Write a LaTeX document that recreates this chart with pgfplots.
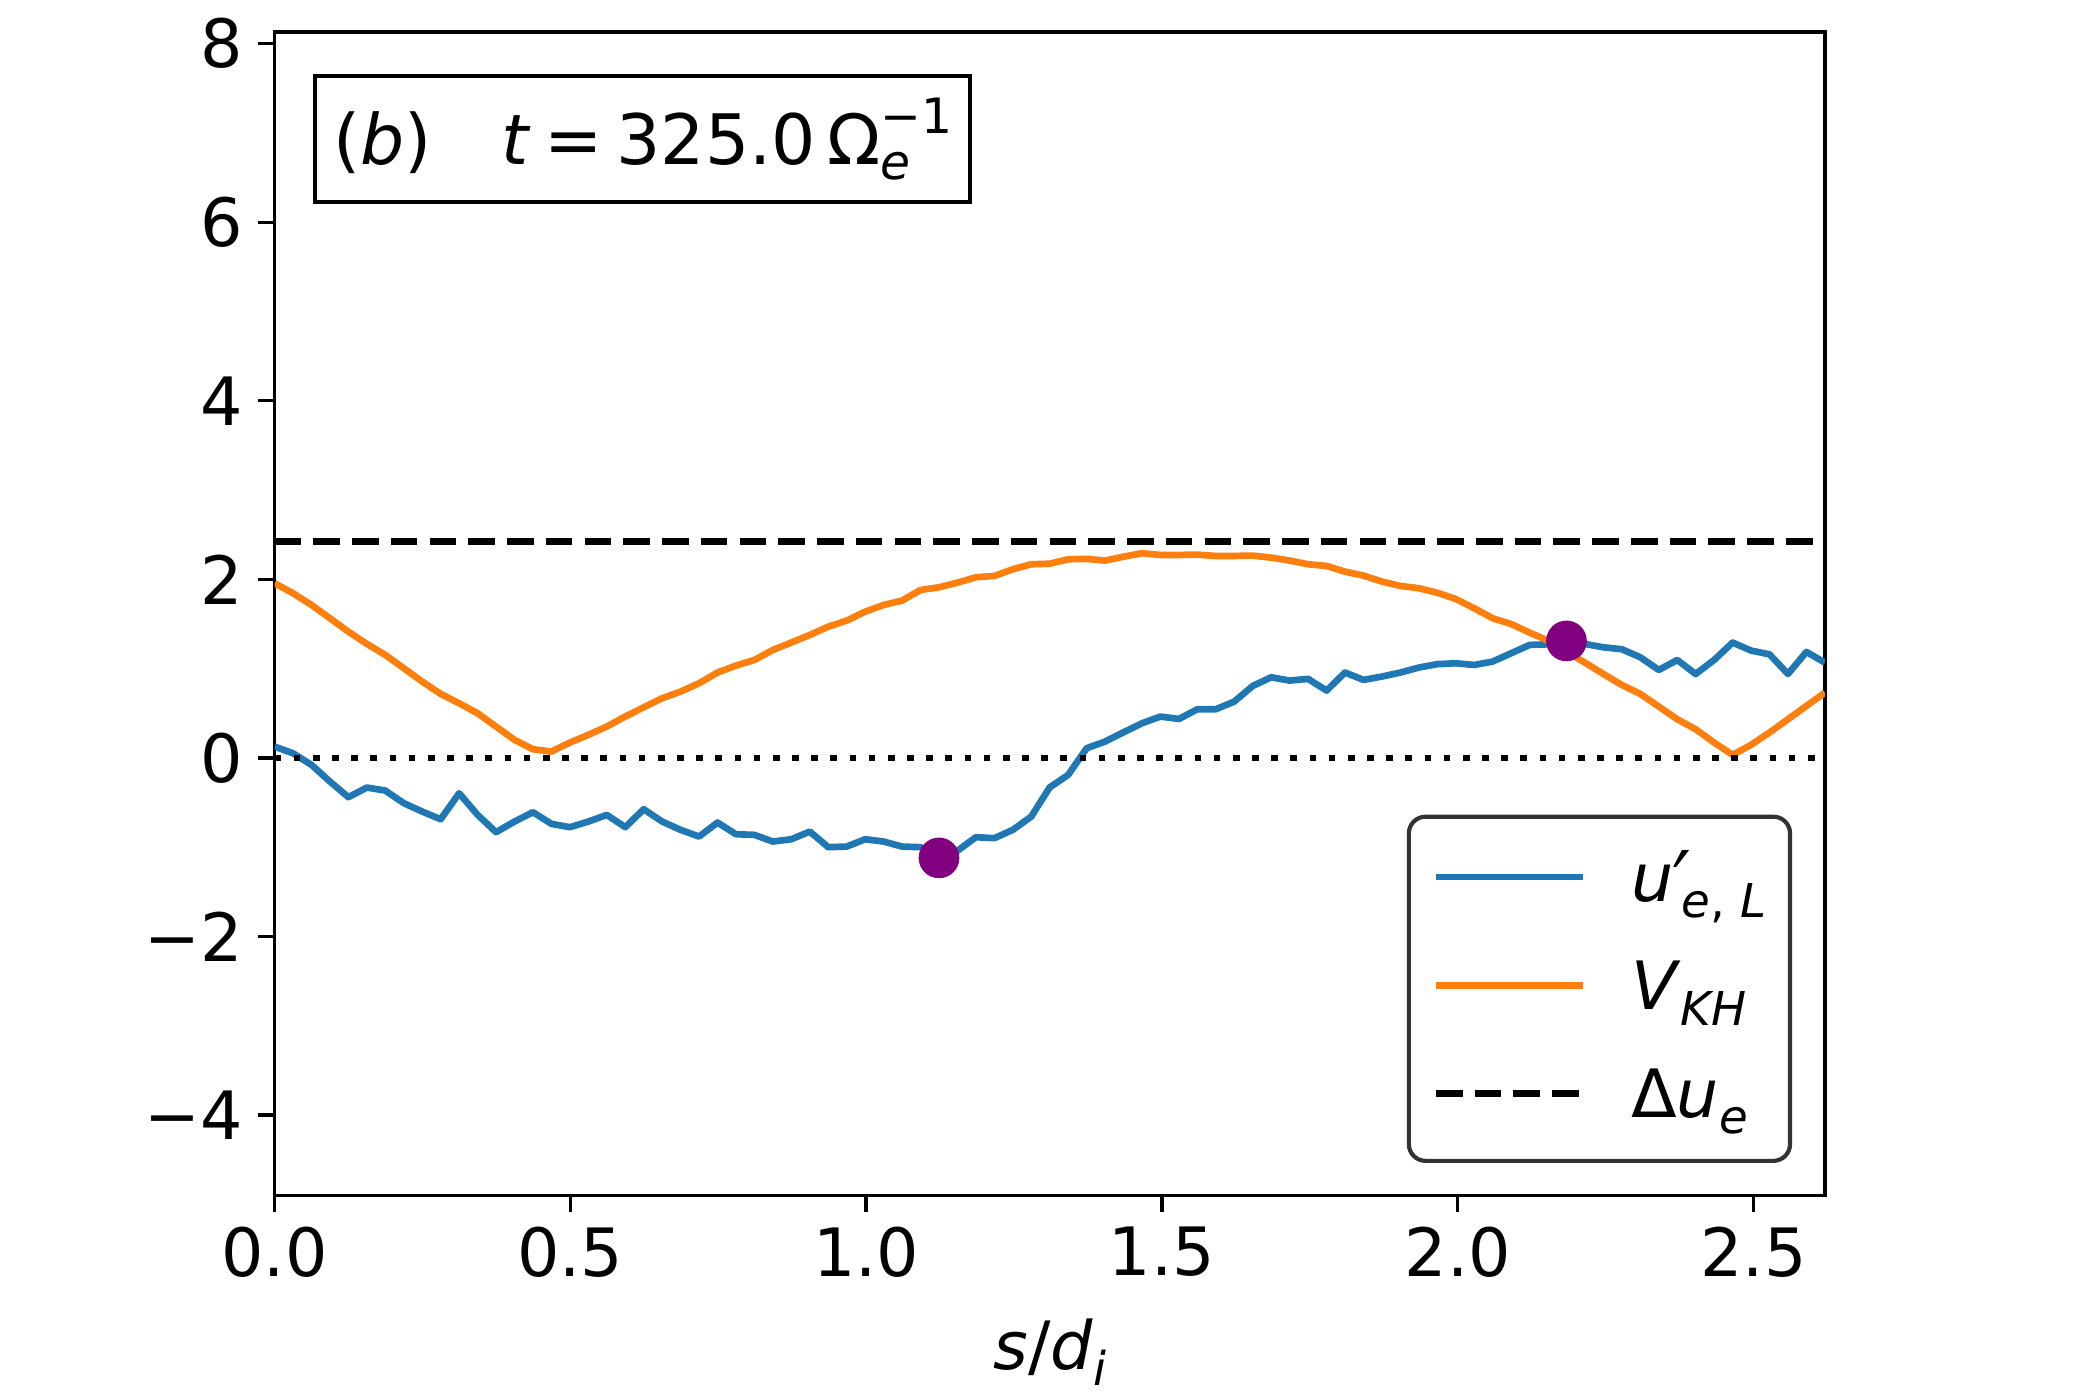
\documentclass[border=0pt]{standalone}
\usepackage{fontspec}
\setmainfont{DejaVu Sans}
\usepackage{pgfplots}
\usepackage{pgfplotstable}
\pgfplotsset{compat=1.18}
\definecolor{mplblue}{RGB}{31,119,180}
\definecolor{mplorange}{RGB}{255,127,14}
\definecolor{mplpurple}{RGB}{128,0,128}
\definecolor{legedge}{RGB}{51,51,51}
\newcommand{\sbs}[1]{\raisebox{-0.24em}{\fontsize{11.2pt}{13pt}\selectfont #1}}
\newcommand{\sps}[1]{\raisebox{0.45em}{\fontsize{11.2pt}{13pt}\selectfont #1}}
\newcommand{\tsbs}[1]{\raisebox{-0.22em}{\fontsize{11.7pt}{13pt}\selectfont #1}}
\newcommand{\tsps}[1]{\raisebox{0.45em}{\fontsize{11.7pt}{13pt}\selectfont #1}}
\newcommand{\prm}{{\itshape\raisebox{\dimexpr 12.25pt-1.4\fontcharht\font"2032\relax}{\scalebox{1.1}[1.4]{′}}}}

\pgfplotstableread{
x u v
0.0000 0.127 1.956
0.0312 0.052 1.844
0.0624 -0.078 1.713
0.0936 -0.265 1.564
0.1248 -0.440 1.414
0.1560 -0.332 1.277
0.1872 -0.366 1.153
0.2184 -0.507 1.004
0.2496 -0.601 0.855
0.2808 -0.687 0.717
0.3120 -0.396 0.612
0.3432 -0.638 0.500
0.3744 -0.832 0.351
0.4056 -0.713 0.202
0.4368 -0.608 0.097
0.4680 -0.739 0.071
0.4992 -0.776 0.172
0.5304 -0.713 0.258
0.5616 -0.638 0.351
0.5928 -0.776 0.463
0.6240 -0.575 0.567
0.6552 -0.713 0.668
0.6864 -0.806 0.743
0.7176 -0.881 0.836
0.7488 -0.724 0.956
0.7800 -0.855 1.034
0.8112 -0.862 1.097
0.8424 -0.937 1.209
0.8736 -0.911 1.292
0.9048 -0.825 1.377
0.9360 -1.000 1.470
0.9672 -0.993 1.538
0.9984 -0.911 1.638
1.0296 -0.937 1.713
1.0608 -0.993 1.762
1.0920 -1.000 1.881
1.1232 -1.120 1.911
1.1544 -1.040 1.963
1.1856 -0.888 2.023
1.2168 -0.899 2.038
1.2480 -0.806 2.113
1.2792 -0.657 2.169
1.3104 -0.330 2.175
1.3416 -0.190 2.225
1.3728 0.108 2.229
1.4040 0.183 2.210
1.4352 0.287 2.254
1.4664 0.388 2.292
1.4976 0.463 2.273
1.5288 0.436 2.273
1.5600 0.545 2.277
1.5912 0.545 2.262
1.6224 0.631 2.262
1.6536 0.806 2.266
1.6848 0.903 2.243
1.7160 0.866 2.210
1.7472 0.885 2.169
1.7784 0.754 2.150
1.8096 0.956 2.086
1.8408 0.874 2.042
1.8720 0.911 1.975
1.9032 0.956 1.926
1.9344 1.012 1.900
1.9656 1.050 1.850
1.9968 1.060 1.780
2.0280 1.041 1.676
2.0592 1.079 1.564
2.0904 1.172 1.500
2.1216 1.265 1.403
2.1528 1.272 1.314
2.1840 1.290 1.190
2.2152 1.276 1.067
2.2464 1.239 0.940
2.2776 1.217 0.817
2.3088 1.127 0.717
2.3400 0.985 0.575
2.3712 1.097 0.433
2.4024 0.940 0.321
2.4336 1.097 0.172
2.4648 1.292 0.034
2.4960 1.202 0.146
2.5272 1.160 0.284
2.5584 0.940 0.433
2.5896 1.187 0.582
2.6208 1.067 0.731
}\datatable

\begin{document}
\begin{tikzpicture}[font=\fontsize{16pt}{19.2pt}\selectfont]
\begin{axis}[
  at={(0,0)}, anchor=south west,
  scale only axis, width=372.1pt, height=279.2pt,
  xmin=0, xmax=2.621, ymin=-4.9, ymax=8.13,
  axis line style={line width=0.8pt},
  tick style={line width=0.8pt, black},
  tick align=outside, tick pos=left, major tick length=4pt,
  xtick={0,0.5,1,1.5,2,2.5}, xticklabels={0.0,0.5,1.0,1.5,2.0,2.5},
  ytick={-4,-2,0,2,4,6,8}, yticklabels={−4,−2,0,2,4,6,8},
  xlabel={\textit{s}/\textit{d}\sbs{\textit{i}}},
  xlabel style={yshift=-3.2pt},
  legend style={at={(0.9788,0.0279)}, anchor=south east,
    draw=legedge, line width=1pt, rounded corners=4pt,
    inner xsep=5.7pt, inner ysep=6.3pt, row sep=8pt,
    nodes={inner sep=0pt, text height=14pt, text depth=4pt, anchor=base west},
    /tikz/every odd column/.append style={column sep=10.8pt}},
  legend image code/.code={\draw[#1] (0pt,5.8pt) -- (35.3pt,5.8pt);},
]
\addplot[mplblue, line width=1.6pt, line join=round] table[x=x, y=u] {\datatable};
\addlegendentry{\textit{u}\prm\kern-2pt\sbs{\textit{e}, \textit{L}}}
\addplot[mplorange, line width=1.6pt, line join=round] table[x=x, y=v] {\datatable};
\addlegendentry{\textit{V}\sbs{\textit{KH}}}
\addplot[black, line width=1.6pt, dash pattern=on 6.4pt off 2.9pt] coordinates {(0,2.426) (2.621,2.426)};
\addlegendentry{Δ\textit{u}\sbs{\textit{e}}}
\addplot[black, line width=1.6pt, dash pattern=on 1.6pt off 3.0pt, forget plot] coordinates {(0,0) (2.621,0)};
\addplot[only marks, mark=*, mark size=4.68pt, mplpurple, forget plot] coordinates {(1.1232,-1.12) (2.184,1.31)};
\node[draw, line width=1pt, anchor=north west, inner xsep=4.3pt, inner ysep=0pt, minimum height=30.2pt, fill=white, font=\fontsize{16.7pt}{20pt}\selectfont]
  at (rel axis cs:0.0248,0.9638) {(\textit{b})\quad\textit{t}\hspace{0.2em}=\hspace{0.2em}325.0\,Ω\rlap{\tsbs{\textit{e}}}\tsps{−1}};
\end{axis}
\path[use as bounding box] (-65.9pt,-49.1pt) rectangle (438.1pt,286.9pt);
\end{tikzpicture}
\end{document}
